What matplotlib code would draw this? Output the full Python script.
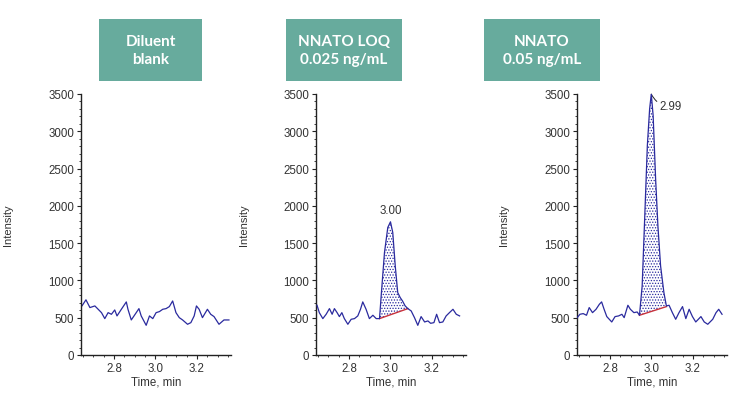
import matplotlib.pyplot as plt
import matplotlib.ticker as ticker
from matplotlib.patches import Rectangle

# ---- data (time in min, intensity in cps) ----
t_blank = [2.645, 2.664, 2.683, 2.707, 2.723, 2.739, 2.755, 2.771, 2.787, 2.803,
           2.814, 2.835, 2.859, 2.867, 2.883, 2.907, 2.920, 2.931, 2.955, 2.971,
           2.987, 3.003, 3.019, 3.035, 3.051, 3.067, 3.083, 3.099, 3.115, 3.131,
           3.155, 3.171, 3.187, 3.198, 3.211, 3.227, 3.251, 3.267, 3.283, 3.307,
           3.331, 3.355]
i_blank = [660, 740, 636, 658, 613, 568, 488, 568, 546, 604,
           524, 613, 712, 613, 470, 568, 622, 524, 398, 524,
           488, 568, 582, 613, 622, 649, 725, 568, 501, 470,
           412, 434, 524, 658, 613, 501, 613, 546, 515, 412,
           470, 470]

t_loq = [2.645, 2.656, 2.673, 2.689, 2.705, 2.718, 2.729, 2.742, 2.753, 2.765,
         2.777, 2.794, 2.810, 2.826, 2.842, 2.855, 2.866, 2.882, 2.898, 2.915,
         2.931, 2.947, 2.955, 2.971, 2.987, 3.000, 3.011, 3.023, 3.035, 3.047,
         3.058, 3.071, 3.084, 3.100, 3.116, 3.132, 3.148, 3.165, 3.181, 3.194,
         3.210, 3.223, 3.237, 3.253, 3.269, 3.285, 3.302, 3.318, 3.334]
i_loq = [667, 568, 488, 546, 622, 546, 622, 568, 515, 568,
         488, 412, 479, 488, 524, 613, 712, 613, 488, 533,
         488, 488, 792, 1374, 1710, 1786, 1643, 1194, 837, 770,
         725, 658, 622, 591, 501, 398, 515, 443, 457, 425,
         434, 546, 434, 443, 524, 568, 613, 546, 524]
loq_peak = (2.947, 3.084)      # integration start / end
loq_base = (488, 622)          # baseline intensity at start / end
loq_rt = "3.00"

t_std = [2.641, 2.654, 2.670, 2.686, 2.699, 2.715, 2.732, 2.748, 2.759, 2.771,
         2.784, 2.808, 2.824, 2.841, 2.857, 2.868, 2.886, 2.898, 2.915, 2.931,
         2.942, 2.955, 2.967, 2.980, 2.991, 2.999, 3.008, 3.020, 3.031, 3.044,
         3.060, 3.072, 3.085, 3.101, 3.117, 3.133, 3.150, 3.166, 3.182, 3.198,
         3.214, 3.239, 3.255, 3.272, 3.296, 3.312, 3.325, 3.341]
i_std = [501, 546, 555, 533, 636, 568, 613, 680, 712, 613,
         515, 443, 515, 524, 546, 501, 667, 613, 568, 577,
         533, 927, 1822, 2807, 3299, 3500, 3209, 2359, 1733, 1195,
         837, 658, 667, 568, 479, 568, 649, 488, 613, 515,
         443, 515, 443, 412, 479, 568, 613, 546]
std_peak = (2.942, 3.072)
std_base = (533, 649)
std_rt = "2.99"

titles = ["Diluent\nblank", "NNATO LOQ\n0.025 ng/mL", "NNATO\n0.05 ng/mL"]

LINE = "#2A2A9E"
BASE = "#C8323C"
TEAL = "#67AB9D"
INK = "#333333"

plt.rcParams["font.family"] = ["Liberation Sans", "DejaVu Sans"]
plt.rcParams["hatch.linewidth"] = 0.6

fig = plt.figure(figsize=(7.5, 4.14), dpi=100)

ax_left = [81, 316, 577]
box_x = [(99, 202), (286, 402), (484, 600)]
W, H = 750, 414


def make_axes(x0):
    ax = fig.add_axes([x0 / W, 1 - 356 / H, 150 / W, 261 / H])
    ax.set_xlim(2.64, 3.365)
    ax.set_ylim(0, 3500)
    for s in ("top", "right"):
        ax.spines[s].set_visible(False)
    for s in ("left", "bottom"):
        ax.spines[s].set_linewidth(1.0)
        ax.spines[s].set_color("#222222")
    ax.xaxis.set_major_locator(ticker.FixedLocator([2.8, 3.0, 3.2]))
    ax.xaxis.set_major_formatter(ticker.FormatStrFormatter("%.1f"))
    ax.xaxis.set_minor_locator(ticker.MultipleLocator(0.05))
    ax.yaxis.set_major_locator(ticker.MultipleLocator(500))
    ax.yaxis.set_minor_locator(ticker.MultipleLocator(100))
    ax.tick_params(which="major", length=3, width=0.8, labelsize=8.3,
                   colors="#222222", labelcolor=INK, pad=2)
    ax.tick_params(which="minor", length=1.5, width=0.6, colors="#222222")
    ax.set_xlabel("Time, min", fontsize=8.3, color=INK, labelpad=1)
    ax.set_ylabel("Intensity", fontsize=8, color=INK)
    ax.yaxis.set_label_coords(-0.45, 0.5)
    return ax


def peak(ax, t, y, span, base):
    t0, t1 = span
    b0, b1 = base
    pt = [v for v in t if t0 <= v <= t1]
    py = [y[i] for i, v in enumerate(t) if t0 <= v <= t1]
    pb = [b0 + (b1 - b0) * (v - t0) / (t1 - t0) for v in pt]
    ax.fill_between(pt, pb, py, facecolor="none", edgecolor=LINE,
                    hatch="......", linewidth=0)
    ax.plot([t0, t1], [b0, b1], color=BASE, lw=1.0, zorder=3)
    k = py.index(max(py))
    return pt[k], py[k]


ax1 = make_axes(ax_left[0])
ax1.plot(t_blank, i_blank, color=LINE, lw=0.9)

ax2 = make_axes(ax_left[1])
ax2.plot(t_loq, i_loq, color=LINE, lw=0.9, zorder=4)
xp, yp = peak(ax2, t_loq, i_loq, loq_peak, loq_base)
ax2.annotate(loq_rt, (xp, yp), xytext=(0, 4), textcoords="offset points",
             ha="center", va="bottom", fontsize=8.3, color=INK)

ax3 = make_axes(ax_left[2])
ax3.plot(t_std, i_std, color=LINE, lw=0.9, zorder=4)
xp, yp = peak(ax3, t_std, i_std, std_peak, std_base)
ax3.annotate(std_rt, (xp, yp), xytext=(6, -9), textcoords="offset points",
             ha="left", va="center", fontsize=8.3, color=INK,
             arrowprops=dict(arrowstyle="-", color="#222222", lw=0.7,
                             connectionstyle="arc3,rad=-0.3",
                             shrinkA=0, shrinkB=0))

# ---- teal header boxes ----
for (x0, x1), title in zip(box_x, titles):
    fig.patches.append(Rectangle((x0 / W, 1 - 82 / H), (x1 - x0) / W, 62 / H,
                                 transform=fig.transFigure, facecolor=TEAL,
                                 edgecolor="none"))
    fig.text((x0 + x1) / 2 / W, 1 - 51 / H, title, ha="center", va="center",
             color="white", fontsize=11, fontweight="bold",
             family=["Lato", "DejaVu Sans"], linespacing=1.4)

fig.savefig("out.png", dpi=100)
